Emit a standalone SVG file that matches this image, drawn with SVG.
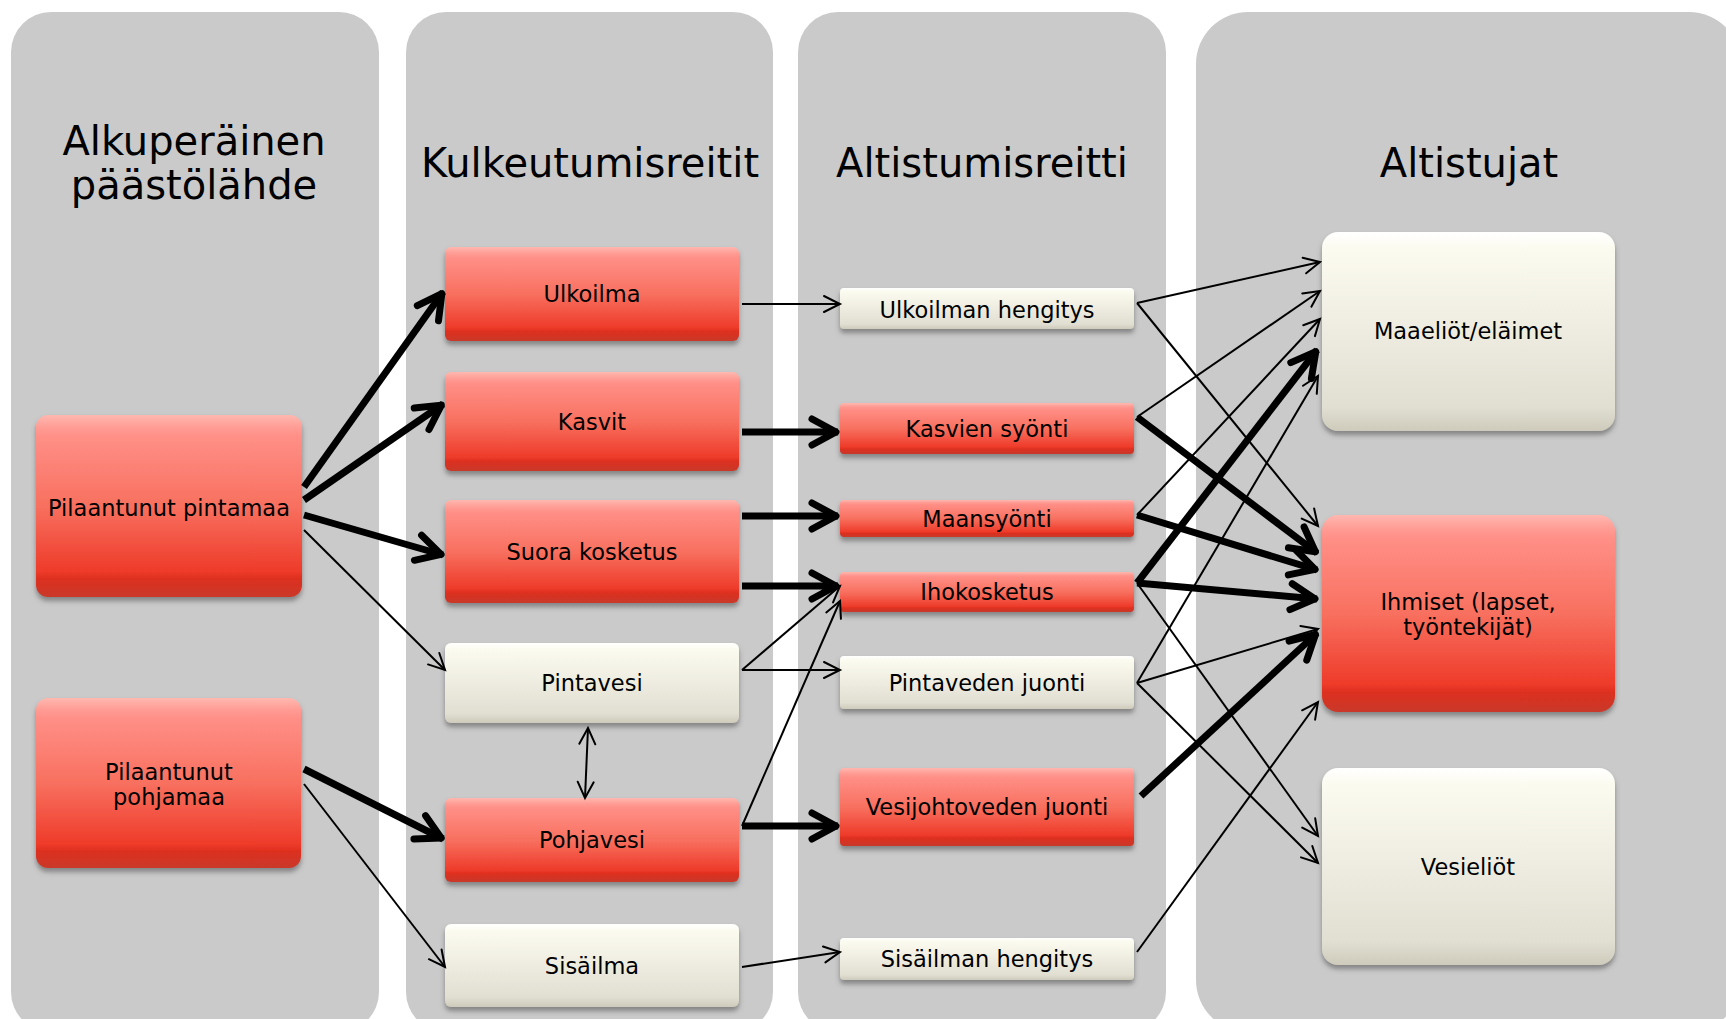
<svg xmlns="http://www.w3.org/2000/svg" width="1726" height="1019" viewBox="0 0 1726 1019">
<style>
.panel{fill:#cacaca}
.title{font-family:"DejaVu Sans","Liberation Sans",sans-serif;font-size:40px;text-anchor:middle;fill:#000}
.lbl{font-family:"DejaVu Sans","Liberation Sans",sans-serif;font-size:22.5px;text-anchor:middle;fill:#000}
.red{fill:url(#gRed);filter:url(#sh)}
.cream{fill:url(#gCream);filter:url(#sh)}
.thin{fill:none;stroke:#000;stroke-width:2;marker-end:url(#mThin)}
.thick{fill:none;stroke:#000;stroke-width:7;marker-end:url(#mThick)}
</style>
<defs>
<linearGradient id="gRed" x1="0" y1="0" x2="0" y2="1">
<stop offset="0" stop-color="#FFB8B0"/>
<stop offset="0.07" stop-color="#FF9C94"/>
<stop offset="0.12" stop-color="#FF8F87"/>
<stop offset="0.5" stop-color="#F8705F"/>
<stop offset="0.86" stop-color="#EE3B2A"/>
<stop offset="0.9" stop-color="#DD2F1F"/>
<stop offset="1" stop-color="#C9392A"/>
</linearGradient>
<linearGradient id="gCream" x1="0" y1="0" x2="0" y2="1">
<stop offset="0" stop-color="#FFFFFF"/>
<stop offset="0.08" stop-color="#FCFBF0"/>
<stop offset="0.5" stop-color="#EEECE0"/>
<stop offset="0.88" stop-color="#E1DFD2"/>
<stop offset="1" stop-color="#CECBBC"/>
</linearGradient>
<filter id="sh" x="-10%" y="-10%" width="120%" height="140%">
<feDropShadow dx="0" dy="4" stdDeviation="2.5" flood-color="#555" flood-opacity="0.6"/>
</filter>
<marker id="mThin" markerUnits="userSpaceOnUse" viewBox="-20 -12 24 24" refX="0" refY="0" markerWidth="24" markerHeight="24" orient="auto" overflow="visible">
<path d="M-16,-8 L0,0 L-16,8" fill="none" stroke="#000" stroke-width="2" stroke-linecap="round" stroke-linejoin="miter"/>
</marker>
<marker id="mThick" markerUnits="userSpaceOnUse" viewBox="-34 -18 40 36" refX="0" refY="0" markerWidth="40" markerHeight="36" orient="auto" overflow="visible">
<path d="M-26,-13 L-2,0 L-26,13" fill="none" stroke="#000" stroke-width="7" stroke-linecap="round" stroke-linejoin="round"/>
</marker>
<marker id="mThinStart" markerUnits="userSpaceOnUse" viewBox="-20 -12 24 24" refX="0" refY="0" markerWidth="24" markerHeight="24" orient="auto-start-reverse" overflow="visible">
<path d="M-16,-8 L0,0 L-16,8" fill="none" stroke="#000" stroke-width="2" stroke-linecap="round"/>
</marker>
</defs>

<rect width="1726" height="1019" fill="#fff"/>

<g id="panels">
<rect class="panel" x="11" y="12" width="368" height="1020" rx="40" ry="40"/>
<rect class="panel" x="406" y="12" width="367" height="1020" rx="40" ry="40"/>
<rect class="panel" x="798" y="12" width="368" height="1020" rx="40" ry="40"/>
<rect class="panel" x="1196" y="12" width="545" height="1020" rx="52" ry="52"/>
</g>

<g id="titles">
<text class="title" x="194" y="155">Alkuperäinen</text>
<text class="title" x="194" y="199">päästölähde</text>
<text class="title" x="590" y="177">Kulkeutumisreitit</text>
<text class="title" x="982" y="177">Altistumisreitti</text>
<text class="title" x="1469" y="177">Altistujat</text>
</g>

<g id="n-pintamaa"><rect class="red" x="36" y="415" width="266" height="182" rx="12"/><text class="lbl" x="169" y="516">Pilaantunut pintamaa</text></g>
<g id="n-pohjamaa"><rect class="red" x="36" y="698" width="265" height="170" rx="12"/><text class="lbl" x="169" y="780">Pilaantunut</text><text class="lbl" x="169" y="805">pohjamaa</text></g>

<g id="n-ulkoilma"><rect class="red" x="445" y="247" width="294" height="94" rx="6"/><text class="lbl" x="592" y="302">Ulkoilma</text></g>
<g id="n-kasvit"><rect class="red" x="445" y="372" width="294" height="99" rx="6"/><text class="lbl" x="592" y="430">Kasvit</text></g>
<g id="n-suora"><rect class="red" x="445" y="500" width="294" height="103" rx="6"/><text class="lbl" x="592" y="560">Suora kosketus</text></g>
<g id="n-pintavesi"><rect class="cream" x="445" y="643" width="294" height="80" rx="6"/><text class="lbl" x="592" y="691">Pintavesi</text></g>
<g id="n-pohjavesi"><rect class="red" x="445" y="798" width="294" height="84" rx="6"/><text class="lbl" x="592" y="848">Pohjavesi</text></g>
<g id="n-sisailma"><rect class="cream" x="445" y="924" width="294" height="83" rx="6"/><text class="lbl" x="592" y="974">Sisäilma</text></g>

<g id="n-ulkoilmanhengitys"><rect class="cream" x="840" y="288" width="294" height="41" rx="4"/><text class="lbl" x="987" y="318">Ulkoilman hengitys</text></g>
<g id="n-kasviensyonti"><rect class="red" x="840" y="403" width="294" height="51" rx="4"/><text class="lbl" x="987" y="437">Kasvien syönti</text></g>
<g id="n-maansyonti"><rect class="red" x="840" y="500" width="294" height="37" rx="4"/><text class="lbl" x="987" y="527">Maansyönti</text></g>
<g id="n-ihokosketus"><rect class="red" x="840" y="572" width="294" height="40" rx="4"/><text class="lbl" x="987" y="600">Ihokosketus</text></g>
<g id="n-pintavedenjuonti"><rect class="cream" x="840" y="656" width="294" height="53" rx="4"/><text class="lbl" x="987" y="691">Pintaveden juonti</text></g>
<g id="n-vesijohto"><rect class="red" x="840" y="768" width="294" height="78" rx="4"/><text class="lbl" x="987" y="815">Vesijohtoveden juonti</text></g>
<g id="n-sisailmanhengitys"><rect class="cream" x="840" y="938" width="294" height="42" rx="4"/><text class="lbl" x="987" y="967">Sisäilman hengitys</text></g>

<g id="n-maaeliot"><rect class="cream" x="1322" y="232" width="293" height="199" rx="16"/><text class="lbl" x="1468" y="339">Maaeliöt/eläimet</text></g>
<g id="n-ihmiset"><rect class="red" x="1322" y="515" width="293" height="197" rx="16"/><text class="lbl" x="1468" y="610">Ihmiset (lapset,</text><text class="lbl" x="1468" y="635">työntekijät)</text></g>
<g id="n-vesieliot"><rect class="cream" x="1322" y="768" width="293" height="197" rx="16"/><text class="lbl" x="1468" y="875">Vesieliöt</text></g>

<g id="connectors">
<line class="thick" x1="304" y1="487" x2="443" y2="292"/>
<line class="thick" x1="304" y1="500" x2="443" y2="404"/>
<line class="thick" x1="304" y1="515" x2="443" y2="555"/>
<line class="thin" x1="304" y1="530" x2="445" y2="670"/>
<line class="thick" x1="304" y1="769" x2="443" y2="839"/>
<line class="thin" x1="304" y1="784" x2="445" y2="967"/>

<line class="thin" x1="588" y1="728" x2="585" y2="798" marker-start="url(#mThinStart)"/>

<line class="thin" x1="742" y1="304" x2="840" y2="304"/>
<line class="thick" x1="742" y1="432" x2="838" y2="432"/>
<line class="thick" x1="742" y1="516" x2="838" y2="516"/>
<line class="thick" x1="742" y1="586" x2="838" y2="586"/>
<line class="thin" x1="742" y1="670" x2="840" y2="586"/>
<line class="thin" x1="742" y1="670" x2="840" y2="670"/>
<line class="thin" x1="742" y1="826" x2="840" y2="601"/>
<line class="thick" x1="742" y1="826" x2="838" y2="826"/>
<line class="thin" x1="742" y1="967" x2="840" y2="952"/>

<line class="thin" x1="1137" y1="303" x2="1320" y2="262"/>
<line class="thin" x1="1137" y1="303" x2="1318" y2="526"/>
<line class="thin" x1="1137" y1="417" x2="1320" y2="291"/>
<line class="thick" x1="1137" y1="417" x2="1317" y2="553"/>
<line class="thin" x1="1137" y1="515" x2="1320" y2="319"/>
<line class="thick" x1="1137" y1="515" x2="1317" y2="570"/>
<line class="thick" x1="1137" y1="583" x2="1317" y2="350"/>
<line class="thick" x1="1137" y1="583" x2="1317" y2="599"/>
<line class="thin" x1="1137" y1="583" x2="1318" y2="836"/>
<line class="thin" x1="1137" y1="683" x2="1318" y2="376"/>
<line class="thin" x1="1137" y1="683" x2="1318" y2="629"/>
<line class="thin" x1="1137" y1="683" x2="1318" y2="863"/>
<line class="thick" x1="1141" y1="796" x2="1317" y2="633"/>
<line class="thin" x1="1137" y1="952" x2="1318" y2="702"/>
</g>
</svg>
